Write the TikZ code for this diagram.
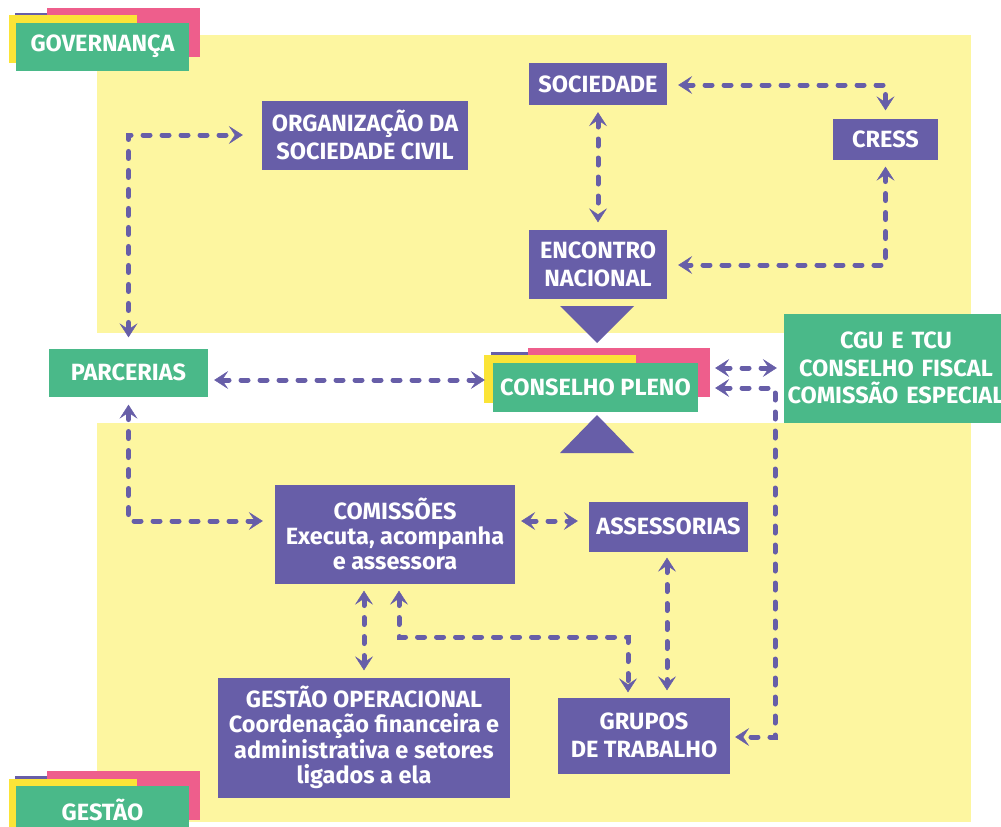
\documentclass[tikz,border=0pt]{standalone}
\usepackage{fontspec}
\setmainfont{Fira Sans}
\usetikzlibrary{arrows.meta,calc}
\definecolor{purp}{RGB}{103,94,168}
\definecolor{grn}{RGB}{74,185,137}
\definecolor{ltyel}{RGB}{253,246,160}
\definecolor{byel}{RGB}{251,228,55}
\definecolor{pink}{RGB}{238,94,140}
\tikzset{
  box/.style={rectangle, fill=purp, text=white, inner sep=0pt, align=center,
    font=\bfseries\fontsize{23.5}{28}\selectfont},
  gbox/.style={box, fill=grn},
  conn/.style={draw=purp, line width=5pt, line cap=round, dash pattern=on 7pt off 12pt,
    <->, >={Stealth[length=14pt,width=18pt,inset=6pt,line width=0.5pt]}},
}
\begin{document}
\begin{tikzpicture}[x=1pt,y=-1pt]
\useasboundingbox (0,0) rectangle (1001,827);
% backgrounds
\fill[ltyel] (97,35) rectangle (971,333);
\fill[ltyel] (97,423) rectangle (971,822);
% Governanca label
\fill[purp] (15,13) rectangle (50,20);
\fill[pink] (47,8) rectangle (200,57);
\fill[byel] (9,15) rectangle (137,63);
\node[gbox, minimum width=173pt, minimum height=48pt] (gov) at (102.5,46.5) {GOVERNANÇA};
% Gestao label
\fill[purp] (15,776) rectangle (50,782);
\fill[pink] (47,771) rectangle (200,820);
\fill[byel] (9,779) rectangle (137,827);
\node[gbox, minimum width=173pt, minimum height=48pt] (ges) at (102.5,809.5) {GESTÃO};
% Conselho pleno label
\fill[purp] (491,352) rectangle (530,358);
\node[fill=pink, minimum width=182pt, minimum height=49pt, inner sep=0pt] (conspink) at (619,372.5) {};
\fill[byel] (484,355) rectangle (636,403);
\node[gbox, minimum width=205pt, minimum height=49pt] (cons) at (595.5,387) {CONSELHO PLENO};
% triangles
\fill[purp] (560,306) -- (634,306) -- (597,343) -- cycle;
\fill[purp] (597,415) -- (634,453) -- (560,453) -- cycle;
% top nodes
\node[box, minimum width=138pt, minimum height=42pt] (soc) at (598,84) {SOCIEDADE};
\node[box, minimum width=105pt, minimum height=41pt] (cress) at (885.5,139) {CRESS};
\node[box, minimum width=206pt, minimum height=69pt] (osc) at (365,135) {ORGANIZAÇÃO DA\\SOCIEDADE CIVIL};
\node[box, minimum width=138pt, minimum height=69pt] (enc) at (598,264) {ENCONTRO\\NACIONAL};
\node[gbox, minimum width=159pt, minimum height=48pt] (parc) at (128.5,372.5) {PARCERIAS};
\node[gbox, minimum width=224pt, minimum height=109pt, font=\bfseries\fontsize{23.5}{27.5}\selectfont, text width=224pt] (cgu) at (896,368) {CGU E TCU\\CONSELHO FISCAL\\COMISSÃO ESPECIAL};
% bottom nodes
\node[box, minimum width=240pt, minimum height=99pt, font=\bfseries\fontsize{23.5}{25}\selectfont] (com) at (395,534) {COMISSÕES\\Executa, acompanha\\e assessora};
\node[box, minimum width=159pt, minimum height=50pt] (ass) at (668.5,526.5) {ASSESSORIAS};
\node[box, minimum width=292pt, minimum height=120pt, font=\bfseries\fontsize{23.5}{25}\selectfont] (gop) at (364,737.5) {GESTÃO OPERACIONAL\\Coordenação financeira e\\administrativa e setores\\ligados a ela};
\node[box, minimum width=172pt, minimum height=76pt] (gru) at (644,735.5) {GRUPOS\\DE TRABALHO};
% connectors
\draw[conn, shorten <=11pt, shorten >=8pt] ($(soc.east)+(0,1)$) -| (cress.north);
\draw[conn, shorten <=7pt, shorten >=7pt] (soc.south) -- (enc.north);
\draw[conn, shorten <=7pt, shorten >=11pt] (cress.south) |- ($(enc.east)+(0,1)$);
\draw[conn, shorten <=11pt, shorten >=19pt] (parc.north) |- (osc.west);
\draw[conn, shorten <=6pt, shorten >=8pt] ($(parc.east)+(0,7.5)$) -- ($(cons.west)+(0,-7)$);
\draw[conn, shorten <=8pt, shorten >=12pt] (parc.south) |- ($(com.west)+(0,-13)$);
\draw[conn, shorten <=6pt, shorten >=11pt] ($(com.east)+(0,-13)$) -- ($(ass.west)+(0,-5.5)$);
\draw[conn, shorten <=5pt, shorten >=7pt] ($(conspink.east)+(0,-4.5)$) -- (cgu.west |- {$(conspink.east)+(0,-4.5)$});
\coordinate (rt) at (775,388);
\draw[conn, shorten <=5pt, shorten >=5pt] (conspink.east |- rt) -- (rt) |- ($(gru.east)+(0,1.5)$);
\draw[conn, shorten <=7pt, shorten >=7pt] (com.south -| gop.north) -- (gop.north);
\coordinate (cg) at (628,637);
\draw[conn, shorten <=7pt, shorten >=5pt] (com.south -| 399,0) |- (cg) -- (gru.north -| cg);
\draw[conn, shorten <=6pt, shorten >=7pt] (ass.south -| 667,0) -- (gru.north -| 667,0);
\end{tikzpicture}
\end{document}
